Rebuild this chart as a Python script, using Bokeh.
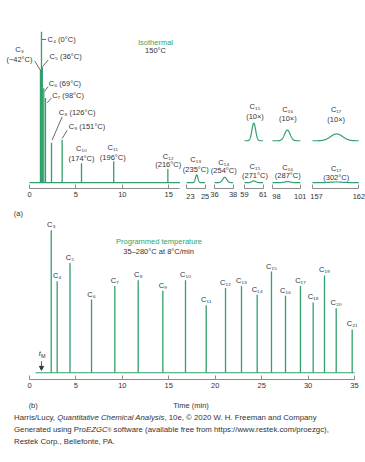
import numpy as np
from bokeh.plotting import figure
from bokeh.models import (Range1d, FixedTicker, Arrow, NormalHead, Div, LinearAxis)
from bokeh.layouts import column, row
from bokeh.embed import file_html
from bokeh.resources import INLINE
from bokeh.core.properties import value

# ---------------- data: panel (a) isothermal 150 °C ----------------
a_labels = ["C₃", "C₄", "C₅", "C₆", "C₇", "C₈", "C₉", "C₁₀", "C₁₁", "C₁₂"]
a_bp = ["−42°C", "0°C", "36°C", "69°C", "98°C", "126°C", "151°C", "174°C", "196°C", "216°C"]
a_time = [1.18, 1.29, 1.38, 1.54, 1.72, 2.37, 3.52, 5.60, 9.07, 14.90]
a_height = [116, 155, 119, 97, 87, 41, 44, 20, 22, 14]
a_ticks = [0, 5, 10, 15]
a_span = [0, 16.2]

# broken-axis segments of panel (a)
s_labels = ["C₁₃", "C₁₄", "C₁₅", "C₁₆", "C₁₇"]
s_bp = ["235°C", "254°C", "271°C", "287°C", "302°C"]
s_lo = [23, 36, 59, 98, 157]
s_hi = [25, 38, 61, 101, 162]
s_time = [24.1, 37.1, 60.0, 99.6, 159.6]
s_height = [8.0, 5.5, 1.8, 1.1, 0.7]
s_sigma = [0.13, 0.22, 0.20, 0.30, 0.65]
s_inset = [False, False, True, True, True]
inset_gain = 10

# ---------------- data: panel (b) programmed temperature ----------------
b_labels = ["C₃", "C₄", "C₅", "C₆", "C₇", "C₈", "C₉", "C₁₀", "C₁₁", "C₁₂", "C₁₃",
            "C₁₄", "C₁₅", "C₁₆", "C₁₇", "C₁₈", "C₁₉", "C₂₀", "C₂₁"]
b_time = [2.34, 2.98, 4.36, 6.68, 9.19, 11.71, 14.36, 16.80, 19.03, 21.11, 22.83,
          24.52, 26.06, 27.57, 29.18, 30.55, 31.77, 33.03, 34.75]
b_height = [148, 95, 114, 76, 90, 96, 85, 96, 70, 88, 90, 81, 105, 80, 90, 73, 101, 67, 45]
b_ticks = [0, 5, 10, 15, 20, 25, 30, 35]
b_span = [0.65, 35]
t_M = 1.29

# ---------------- layout / style ----------------
PPM = 325 / 35            # pixels per minute (same scale in both panels)
ZERO_PX = 29              # pixel of t = 0
A_H, B_H, BORDER = 220, 192, 27
A_MAIN_W = 182
SEG_FIG = [(182, 27), (209, 29), (238, 30), (268, 38), (306, 59)]   # (left px, width)
SEG_PX = [186, 214, 244, 272, 312]                                   # px of segment start
SEG_PAD_LEFT = [True, False, False, True, True]                      # nudge start label right
FULL_W = 365
GREEN = "#339f6c"
TGREEN = "#27a76b"
TXT = "#333333"
AXC = "#8c8c8c"
FONT = "Liberation Sans"
FS = "7.5px"


def style_axis(ax, ticks, bounds):
    ax.bounds = tuple(bounds)
    ax.ticker = FixedTicker(ticks=ticks, minor_ticks=[])
    ax.axis_line_color = AXC
    ax.axis_line_width = 1
    ax.major_tick_line_color = AXC
    ax.major_tick_in = 4
    ax.major_tick_out = 0
    ax.minor_tick_line_color = None
    ax.major_label_text_font = FONT
    ax.major_label_text_font_size = FS
    ax.major_label_text_color = TXT
    ax.major_label_standoff = 3


def label_axis(p, labels, standoff):
    """extra axis stacked below the time axis: carries panel tag / title row"""
    pos = list(labels.keys())
    ax = LinearAxis(ticker=FixedTicker(ticks=pos, minor_ticks=[]),
                    major_label_overrides=labels, axis_line_color=None,
                    major_tick_line_color=None, minor_tick_line_color=None,
                    major_label_standoff=standoff, major_label_text_font=FONT,
                    major_label_text_font_size=FS, major_label_text_color=TXT)
    p.add_layout(ax, "below")
    return ax


def make_fig(width, height, xr, yr):
    p = figure(width=width, height=height, x_range=xr, y_range=yr,
               output_backend="svg", toolbar_location=None, y_axis_location=None,
               min_border_left=0, min_border_right=0, min_border_top=0,
               min_border_bottom=BORDER)
    p.outline_line_color = None
    p.grid.visible = False
    return p


def txt(p, x, y, t, align="center", color=TXT, size=FS, style="normal", baseline="middle"):
    p.text(x=x, y=y, text=t, text_font=value(FONT), text_font_size=size,
           text_align=align, text_baseline=baseline, text_color=color,
           text_font_style=style)


# ================= panel (a): main part =================
pa = make_fig(A_MAIN_W, A_H, Range1d(-ZERO_PX / PPM, (A_MAIN_W - ZERO_PX) / PPM),
              Range1d(-6, 187))
style_axis(pa.xaxis[0], a_ticks, a_span)
label_axis(pa, {-1.2: "(a)"}, 3)

pa.line(x=a_span, y=[0, 0], line_color=GREEN, line_width=1.2)
pa.segment(x0=a_time, y0=[0] * len(a_time), x1=a_time, y1=a_height,
           line_color=GREEN, line_width=1.3)

single = [1, 2, 3, 4, 5, 6]
single_x = [1.94, 2.15, 2.08, 2.44, 3.16, 4.23]
single_y = [147, 129, 101.3, 89.3, 72, 57.7]
txt(pa, single_x, single_y, [f"{a_labels[i]} ({a_bp[i]})" for i in single], align="left")
double = [0, 7, 8, 9]
double_x = [-1.08, 5.60, 8.97, 14.94]
double_y1 = [137, 35.3, 36.3, 27]
double_y2 = [126, 25.3, 26, 18.7]
txt(pa, double_x, double_y1, [a_labels[i] for i in double])
txt(pa, double_x, double_y2, [f"({a_bp[i]})" for i in double])
lead_x0 = [0.57, 1.35, 2.01, 2.01, 2.37, 3.52, 4.06]
lead_y0 = [124.7, 147, 126, 98.7, 87, 67.7, 53.7]
lead_x1 = [1.18, 1.78, 1.43, 1.62, 1.91, 2.44, 3.52]
lead_y1 = [115.3, 147, 119.3, 93.7, 82, 43.7, 45.3]
pa.segment(x0=lead_x0, y0=lead_y0, x1=lead_x1, y1=lead_y1, line_color="#444444", line_width=0.8)

txt(pa, [13.57], [144.3], ["Isothermal"], color=TGREEN)
txt(pa, [13.57], [135.3], ["150°C"])

# ================= panel (a): broken-axis segments =================
s_lab_x = [24.0, 37.0, 60.13, 99.65, 159.55]
s_lab_y1 = [23.7, 21, 16.3, 16, 14.3]
s_lab_y2 = [13.7, 12, 7, 7, 5.3]
ins_y1 = {2: 78, 3: 75.3, 4: 74.7}
ins_y2 = {2: 67.7, 3: 66.3, 4: 65}
INSET_BASE = 43

seg_figs = []
for i in range(len(s_lo)):
    left, w = SEG_FIG[i]
    x0 = s_lo[i] - (SEG_PX[i] - left) / PPM
    ps = make_fig(w, A_H, Range1d(x0, x0 + w / PPM), Range1d(-6, 187))
    style_axis(ps.xaxis[0], [s_lo[i], s_hi[i]], [s_lo[i], s_hi[i]])
    if SEG_PAD_LEFT[i]:
        ps.xaxis[0].major_label_overrides = {s_lo[i]: "\u2002" + str(s_lo[i])}
    t = np.linspace(s_lo[i], s_hi[i], 300)
    y = s_height[i] * np.exp(-0.5 * ((t - s_time[i]) / s_sigma[i]) ** 2)
    ps.line(x=t, y=y, line_color=GREEN, line_width=1.2)
    if s_inset[i]:
        ps.line(x=t, y=INSET_BASE + inset_gain * y, line_color=GREEN, line_width=1.2)
        txt(ps, [s_lab_x[i]], [ins_y1[i]], [s_labels[i]])
        txt(ps, [s_lab_x[i]], [ins_y2[i]], [f"({inset_gain}×)"])
    txt(ps, [s_lab_x[i]], [s_lab_y1[i]], [s_labels[i]])
    txt(ps, [s_lab_x[i]], [s_lab_y2[i]], [f"({s_bp[i]})"])
    seg_figs.append(ps)

# ================= panel (b) =================
pb = make_fig(FULL_W, B_H, Range1d(-ZERO_PX / PPM, (FULL_W - ZERO_PX) / PPM),
              Range1d(-7, 158))
style_axis(pb.xaxis[0], b_ticks, [0, 35])
label_axis(pb, {0.4: "(b)", 17.4: "Time (min)"}, 4)

pb.line(x=b_span, y=[0, 0], line_color=GREEN, line_width=1.2)
pb.segment(x0=b_time, y0=[0] * len(b_time), x1=b_time, y1=b_height,
           line_color=GREEN, line_width=1.3)
txt(pb, b_time, [h + 1 for h in b_height], b_labels, baseline="bottom")

txt(pb, [13.95], [136], ["Programmed temperature"], color=TGREEN)
txt(pb, [13.9], [126], ["35–280°C at 8°C/min"])

txt(pb, [t_M - 0.18], [19.7], ["t"], style="italic")
txt(pb, [t_M + 0.2], [17], ["M"], size="5.5px")
pb.add_layout(Arrow(end=NormalHead(size=4, fill_color="#333333", line_color="#333333"),
                    x_start=t_M, y_start=12, x_end=t_M, y_end=2.5,
                    line_color="#333333", line_width=0.8))

# ================= caption =================
cap = Div(text=("<div style=\"padding-left:14px; font-family:'Liberation Sans', sans-serif; "
                "font-size:7.8px; line-height:12px; color:#333333; white-space:nowrap;\">"
                "Harris/Lucy, <i>Quantitative Chemical Analysis</i>, 10e, © 2020 W. H. Freeman and Company<br>"
                "Generated using Pro<i>EZGC</i><span style='font-size:5px;vertical-align:top'>®</span> "
                "software (available free from https://www.restek.com/proezgc),<br>"
                "Restek Corp., Bellefonte, PA.</div>"),
          width=FULL_W, height=40, margin=(0, 0, 0, 0))

layout = column(row(pa, *seg_figs, spacing=0), pb, cap, spacing=0)
open("out.html", "w").write(file_html(layout, INLINE))
